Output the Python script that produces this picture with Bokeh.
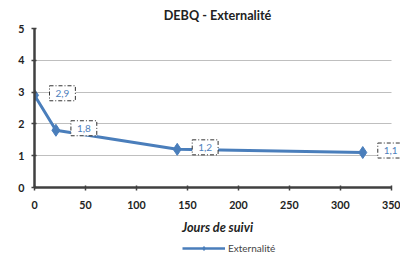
from bokeh.plotting import figure
from bokeh.layouts import column
from bokeh.models import ColumnDataSource, Legend, LegendItem, Range1d, FixedTicker
from bokeh.core.properties import value
from bokeh.embed import file_html
from bokeh.resources import INLINE

days = [0, 21, 140, 322]
values = [2.9, 1.8, 1.2, 1.1]
value_labels = ["2,9", "1,8", "1,2", "1,1"]
x_ticks = [0, 50, 100, 150, 200, 250, 300, 350]
y_ticks = [0, 1, 2, 3, 4, 5]
series_name = "Externalité"
title_text = "DEBQ - Externalité"
x_title = "Jours de suivi"

FONT = "Lato"
BLUE = "#4A7EBB"
AXIS = "#404040"

src = ColumnDataSource(dict(x=days, y=values, lab=value_labels))

p = figure(width=400, height=237, output_backend="svg", toolbar_location=None,
           x_range=Range1d(0, 359), y_range=Range1d(0, 5),
           min_border_left=34, min_border_right=0, min_border_top=27, min_border_bottom=49,
           title=title_text)
p.outline_line_color = None
p.title.align = "center"
p.title.text_font = FONT
p.title.text_font_size = "9.5pt"
p.title.text_font_style = "bold"
p.title.text_color = "#222222"
p.title.offset = 10
p.title.standoff = 11

for ax in (p.xaxis, p.yaxis):
    ax.axis_line_color = AXIS
    ax.axis_line_width = 2.5
    ax.major_tick_line_color = AXIS
    ax.major_tick_line_width = 1.5
    ax.major_tick_in = 2
    ax.major_tick_out = 3
    ax.minor_tick_line_color = None
    ax.major_label_text_font = FONT
    ax.major_label_text_font_size = "8pt"
    ax.major_label_text_font_style = "bold"
    ax.major_label_text_color = "#222222"

p.xaxis.ticker = FixedTicker(ticks=x_ticks)
p.xaxis.bounds = (x_ticks[0], x_ticks[-1])
p.yaxis.ticker = FixedTicker(ticks=y_ticks)
p.xaxis.axis_label = x_title
p.xaxis.axis_label_text_font = FONT
p.xaxis.axis_label_text_font_size = "9.5pt"
p.xaxis.axis_label_text_font_style = "bold italic"
p.xaxis.axis_label_text_color = "#222222"
p.xaxis.axis_label_standoff = 8
p.xaxis.major_label_standoff = 10
p.yaxis.major_label_standoff = 7

p.xgrid.grid_line_color = None
p.ygrid.grid_line_color = "#BFBFBF"
p.ygrid.grid_line_width = 1
p.ygrid.cross_bounds = (x_ticks[0], x_ticks[-1])

ln = p.line("x", "y", source=src, line_color=BLUE, line_width=3)
sc = p.scatter("x", "y", source=src, marker="diamond", size=12, fill_color=BLUE, line_color=BLUE)

p.text(x="x", y="y", text="lab", source=src, x_offset=15, y_offset=-2,
       text_baseline="middle", text_align="left",
       text_font=value(FONT), text_font_size="7.5pt", text_color="#4F81BD",
       background_fill_color="white",
       border_line_color="#333333", border_line_dash="4 2 1 2", border_line_width=1,
       padding=dict(left=6, right=6, top=4, bottom=4))

# legend strip below the chart
lf = figure(width=400, height=20, output_backend="svg", toolbar_location=None,
            x_range=Range1d(0, 1), y_range=Range1d(0, 1),
            x_axis_location=None, y_axis_location=None,
            min_border_left=0, min_border_right=0, min_border_top=0, min_border_bottom=0)
lf.outline_line_color = None
lf.xgrid.grid_line_color = None
lf.ygrid.grid_line_color = None
hidden = ColumnDataSource(dict(x=[-5, -4], y=[-5, -5]))
lln = lf.line("x", "y", source=hidden, line_color=BLUE, line_width=2.5)
lsc = lf.scatter("x", "y", source=hidden, marker="diamond", size=7, fill_color=BLUE, line_color=BLUE)
legend = Legend(items=[LegendItem(label=series_name, renderers=[lln, lsc])],
                location=(148, 3), orientation="horizontal",
                background_fill_alpha=0, border_line_color=None,
                label_text_font=FONT, label_text_font_size="7.5pt",
                glyph_width=43, glyph_height=10, label_standoff=3, padding=1, margin=0)
lf.add_layout(legend)

open("out.html", "w").write(file_html(column(p, lf, spacing=0), INLINE))
